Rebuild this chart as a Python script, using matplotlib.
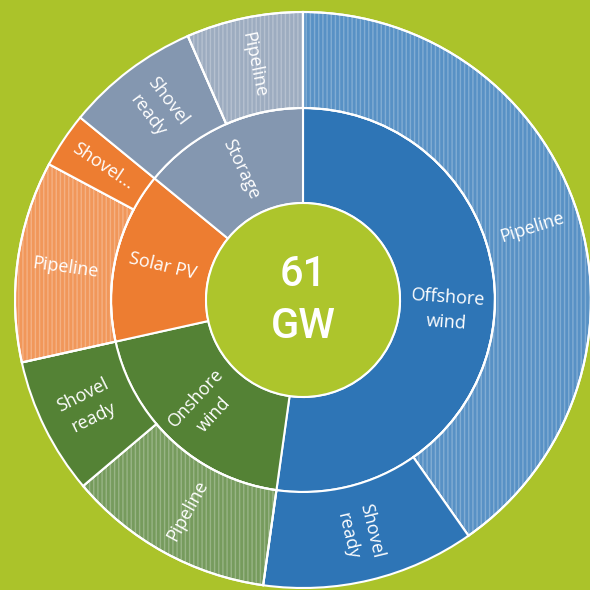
import matplotlib
matplotlib.use("Agg")
import matplotlib.pyplot as plt
from matplotlib.patches import Wedge, Circle
import numpy as np

# ---- data (GW) ----
categories = ["Offshore wind", "Onshore wind", "Solar PV", "Storage"]
pipeline_gw = [24.6, 7.1, 6.9, 4.0]
shovel_gw = [7.3, 4.7, 1.9, 4.6]
pipeline_labels = ["Pipeline", "Pipeline", "Pipeline", "Pipeline"]
shovel_labels = ["Shovel\nready", "Shovel\nready", "Shovel...", "Shovel\nready"]
center_value = "61"
center_unit = "GW"

colors = ["#2e75b6", "#548235", "#ed7d31", "#8497b0"]
bg = "#abc32a"
center_col = "#adc52c"

plt.rcParams['hatch.linewidth'] = 1.0

fig = plt.figure(figsize=(5.9, 5.9), dpi=100, facecolor=bg)
ax = fig.add_axes([0, 0, 1, 1])
ax.set_xlim(0, 590)
ax.set_ylim(0, 590)
ax.set_aspect('equal')
ax.axis('off')
ax.set_facecolor(bg)

cx, cy = 303, 290
r0, r1, r2 = 97, 192, 288
total = sum(pipeline_gw) + sum(shovel_gw)
deg = 360.0 / total

def lighten(c, f):
    c = np.array(matplotlib.colors.to_rgb(c))
    return tuple(c + (1 - c) * f)

def label(text, a_mid, r, fs=13):
    th = np.radians(90 - a_mid)
    x = cx + r * np.cos(th)
    y = cy + r * np.sin(th)
    rot = 90 - a_mid
    while rot <= -90:
        rot += 180
    while rot > 90:
        rot -= 180
    ax.text(x, y, text, rotation=rot, rotation_mode='anchor', ha='center', va='center',
            color='white', fontsize=fs, family=['Open Sans', 'DejaVu Sans'],
            linespacing=1.45)

def wedge(a0, a1, rin, rout, col, hatched=False):
    w = Wedge((cx, cy), rout, 90 - a1, 90 - a0, width=rout - rin,
              facecolor=lighten(col, 0.2) if hatched else col,
              edgecolor='white', linewidth=1.5)
    ax.add_patch(w)
    if hatched:
        h = Wedge((cx, cy), rout, 90 - a1, 90 - a0, width=rout - rin,
                  facecolor='none', edgecolor=(1, 1, 1, 0.25), linewidth=0, hatch='||||')
        ax.add_patch(h)
        w2 = Wedge((cx, cy), rout, 90 - a1, 90 - a0, width=rout - rin,
                   facecolor='none', edgecolor='white', linewidth=1.5)
        ax.add_patch(w2)

a = 0.0
for i, cat in enumerate(categories):
    cat_total = pipeline_gw[i] + shovel_gw[i]
    a_start = a
    a_end = a + cat_total * deg
    wedge(a_start, a_end, r0, r1, colors[i])
    label(cat.replace(" ", "\n") if cat != "Solar PV" else cat, (a_start + a_end) / 2, (r0 + r1) / 2)
    subs = [(pipeline_gw[i], pipeline_labels[i], True), (shovel_gw[i], shovel_labels[i], False)]
    subs.sort(key=lambda s: -s[0])
    b = a_start
    for val, lab, hatched in subs:
        b_end = b + val * deg
        wedge(b, b_end, r1, r2, colors[i], hatched)
        label(lab, (b + b_end) / 2, (r1 + r2) / 2)
        b = b_end
    a = a_end

ax.add_patch(Circle((cx, cy), r0, facecolor=center_col, edgecolor='white', linewidth=1.5))
ax.text(cx, cy + 26, center_value, ha='center', va='center', color='white', fontsize=30,
        family=['Roboto', 'DejaVu Sans'], fontweight='medium')
ax.text(cx, cy - 26, center_unit, ha='center', va='center', color='white', fontsize=30,
        family=['Roboto', 'DejaVu Sans'], fontweight='medium')

fig.savefig("out.png", dpi=100, facecolor=bg)
